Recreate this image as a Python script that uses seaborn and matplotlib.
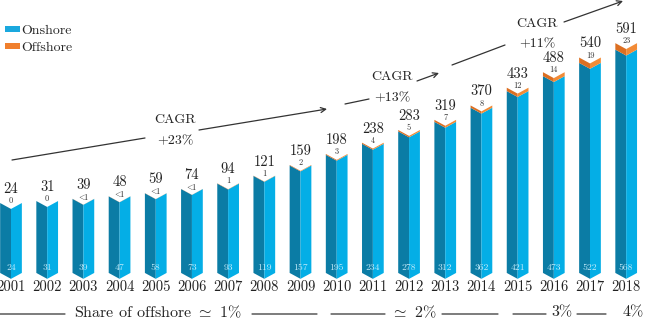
import numpy as np
import matplotlib
matplotlib.use("Agg")
import matplotlib.pyplot as plt
import seaborn as sns
from matplotlib.patches import Patch

years = [2001, 2002, 2003, 2004, 2005, 2006, 2007, 2008, 2009,
         2010, 2011, 2012, 2013, 2014, 2015, 2016, 2017, 2018]
total = [24, 31, 39, 48, 59, 74, 94, 121, 159,
         198, 238, 283, 319, 370, 433, 488, 540, 591]
onshore = [24, 31, 39, 47, 58, 73, 93, 119, 157,
           195, 234, 278, 312, 362, 421, 473, 522, 568]
offshore = [0, 0, 0.5, 0.5, 0.5, 0.5, 1, 1, 2, 3, 4, 5, 7, 8, 12, 14, 19, 23]
offshore_labels = ['0', '0', r'$\!<\!\!1$', r'$\!<\!\!1$', r'$\!<\!\!1$', r'$\!<\!\!1$',
                   '1', '1', '2', '3', '4', '5', '7', '8', '12', '14', '19', '23']
cagr_labels = ['+23%', '+13%', '+11%']
share_labels = [r'Share of offshore $\simeq$ 1%', r'$\simeq$ 2%', '3%', '4%']

sns.set_theme(style="white")
plt.rcParams['font.family'] = ['cmr10']
plt.rcParams['mathtext.fontset'] = 'cm'
plt.rcParams['axes.formatter.use_mathtext'] = True

blue_dark = '#0b7ca5'
blue_light = '#04aee6'
orange_dark = '#dc6f22'
orange_light = '#f28b36'
ink = '#333333'

W, H = 645, 333
fig = plt.figure(figsize=(W / 100, H / 100), dpi=100)
ax = fig.add_axes([0, 0, 1, 1])
ax.set_xlim(-0.304, 17.52)
ax.set_ylim(-437, 744)
ax.axis('off')

BASE = -224   # bar foot (axis does not start at zero)
hw = 0.3      # half bar width
dip = 21      # depth of the folded top / bottom

for i, yr in enumerate(years):
    t = total[i]
    o = t - offshore[i]
    ax.fill([i - hw, i, i, i - hw], [BASE, BASE - dip, o - dip, o], color=blue_dark, lw=0)
    ax.fill([i, i + hw, i + hw, i], [BASE - dip, BASE, o, o - dip], color=blue_light, lw=0)
    if offshore[i] > 0:
        ax.fill([i - hw, i, i, i - hw], [o, o - dip, t - dip, t], color=orange_dark, lw=0)
        ax.fill([i, i + hw, i + hw, i], [o - dip, o, t, t - dip], color=orange_light, lw=0)

    ax.annotate(str(t), xy=(i, t), xytext=(0, 14), textcoords='offset pixels',
                ha='center', va='center', fontsize=10.5, color='#222222')
    ax.annotate(offshore_labels[i], xy=(i, t), xytext=(0, 2), textcoords='offset pixels',
                ha='center', va='center', fontsize=6, color='#333333')
    ax.annotate(str(onshore[i]), xy=(i, BASE), xytext=(0, 5), textcoords='offset pixels',
                ha='center', va='center', fontsize=7, color='#c4ecfb')
    ax.annotate(str(yr), xy=(i, BASE), xytext=(0, -14), textcoords='offset pixels',
                ha='center', va='center', fontsize=10.5, color='#222222')


def fp(px, py):
    return (px, H - py)


def seg(p0, p1, arrow=False):
    ax.annotate('', xy=fp(*p1), xytext=fp(*p0), xycoords='figure pixels',
                textcoords='figure pixels',
                arrowprops=dict(arrowstyle='->' if arrow else '-', color=ink, lw=0.9,
                                shrinkA=0, shrinkB=0, mutation_scale=9))


def label(s, p, size):
    ax.annotate(s, xy=fp(*p), xycoords='figure pixels', ha='center', va='center',
                fontsize=size, color='#222222')


# CAGR annotations
seg((12, 160), (145, 138))
seg((199, 130), (327, 109), arrow=True)
label('CAGR', (175, 120), 10)
label(cagr_labels[0], (175, 141), 10)

seg((345, 104), (369, 99))
seg((417, 81), (439, 73), arrow=True)
label('CAGR', (392, 77), 10)
label(cagr_labels[1], (392, 98), 10)

seg((452, 65), (505, 45))
seg((564, 22), (623, 1), arrow=True)
label('CAGR', (537, 24), 10)
label(cagr_labels[2], (537, 44), 10)

# share of offshore row
for a, b in [(0, 65), (252, 317), (331, 385), (442, 498), (513, 546), (577, 606)]:
    seg((a, 314), (b, 314))
for s, xc in zip(share_labels, [158, 414, 562, 633]):
    label(s, (xc, 312), 11.5)

handles = [Patch(facecolor='#1aa8de', lw=0), Patch(facecolor='#f07f2d', lw=0)]
fig.legend(handles, ['Onshore', 'Offshore'], loc='upper left',
           bbox_to_anchor=(5 / W, 1 - 25 / H), frameon=False, fontsize=10,
           handlelength=1.05, handleheight=0.35, handletextpad=0.15,
           labelspacing=0.35, borderpad=0, borderaxespad=0)

fig.savefig('out.png', dpi=100)
